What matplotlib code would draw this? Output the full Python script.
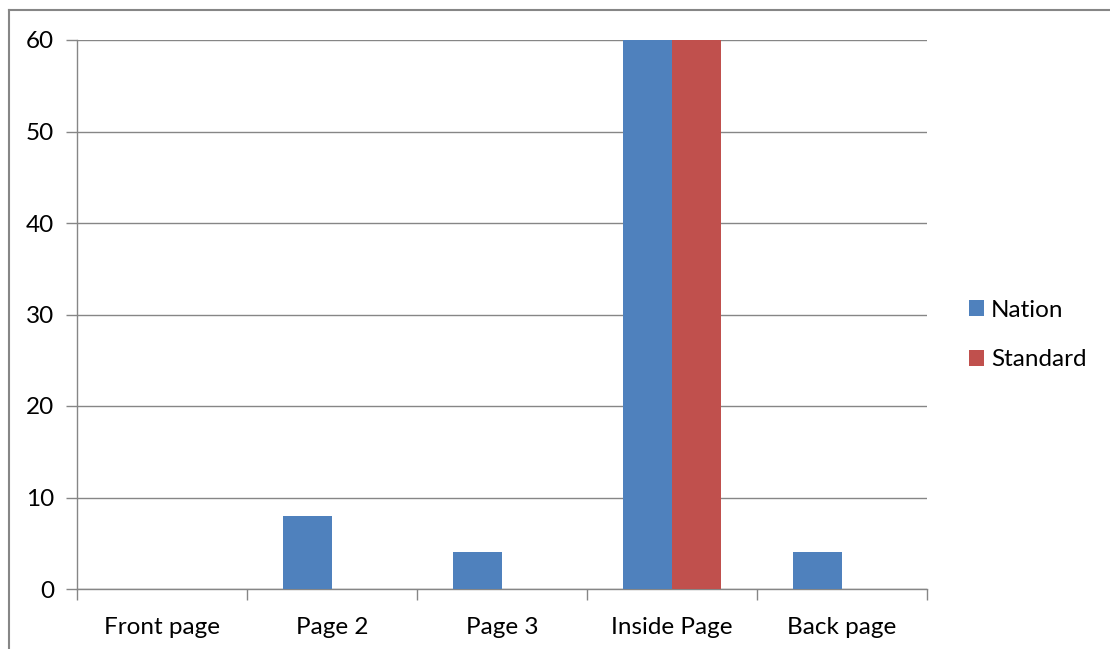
import matplotlib
matplotlib.use("Agg")
import matplotlib.pyplot as plt
import numpy as np
from matplotlib.lines import Line2D

categories = ["Front page", "Page 2", "Page 3", "Inside Page", "Back page"]
nation = [0, 8, 4, 60, 4]
standard = [0, 0, 0, 60, 0]
series_names = ["Nation", "Standard"]
yticks = [0, 10, 20, 30, 40, 50, 60]

plt.rcParams['font.family'] = ['Lato', 'DejaVu Sans']
FS = 17.5

W, H = 1110, 649
fig = plt.figure(figsize=(W/100, H/100), dpi=100)
ax = fig.add_axes([77/W, 1-589/H, (927-77)/W, (589-40)/H])

grey = "#868686"
x = np.arange(len(categories))
w = 1/3.5
ax.bar(x - w/2, nation, width=w, color="#4F81BD", label=series_names[0], zorder=3)
ax.bar(x + w/2, standard, width=w, color="#C0504D", label=series_names[1], zorder=3)

ax.set_xlim(-0.5, len(categories) - 0.5)
ax.set_ylim(0, 60)
ax.set_yticks(yticks)
ax.set_yticklabels([str(v) for v in yticks])
ax.yaxis.grid(True, color=grey, linewidth=1.0, zorder=0)
ax.set_axisbelow(True)

ax.set_xticks(np.arange(-0.5, len(categories), 1.0), minor=False)
ax.set_xticklabels([])
ax.set_xticks(x, minor=True)
ax.set_xticklabels(categories, minor=True)
ax.tick_params(axis='x', which='major', length=8, color=grey, width=1, direction='out')
ax.tick_params(axis='x', which='minor', length=0, pad=20, labelsize=FS)
ax.tick_params(axis='y', length=8, color=grey, width=1, direction='out', pad=8.5, labelsize=FS)

for s in ['top', 'right']:
    ax.spines[s].set_visible(False)
for s in ['left', 'bottom']:
    ax.spines[s].set_color(grey)
    ax.spines[s].set_linewidth(1.0)

leg = fig.legend(loc='center left', bbox_to_anchor=(969/W, 1-335/H), frameon=False,
                 fontsize=FS, handlelength=0.62, handleheight=0.62, handletextpad=0.28,
                 labelspacing=1.18, borderpad=0, borderaxespad=0)

fig.add_artist(Line2D([8.5/W, 8.5/W], [0, 1-9.5/H], color=grey, linewidth=1.5, transform=fig.transFigure))
fig.add_artist(Line2D([8.5/W, 1], [1-9.5/H, 1-9.5/H], color=grey, linewidth=1.5, transform=fig.transFigure))

fig.savefig("out.png", dpi=100)
